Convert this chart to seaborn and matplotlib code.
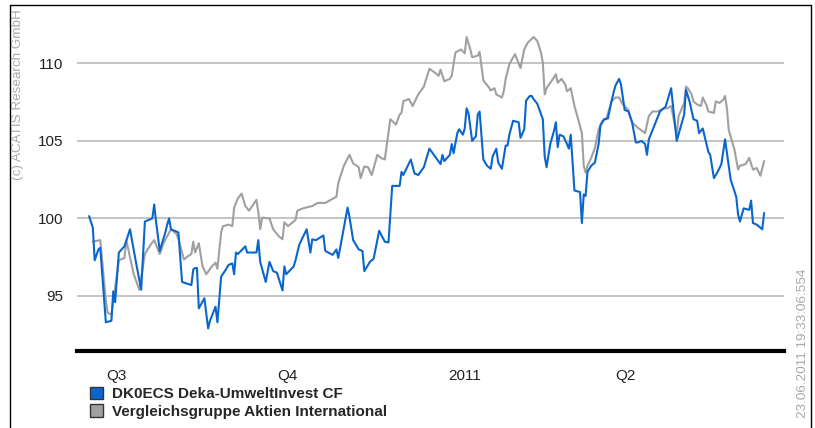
import matplotlib
matplotlib.use("Agg")
import matplotlib.pyplot as plt
from matplotlib.patches import Patch
from matplotlib.lines import Line2D
import pandas as pd
import seaborn as sns

fund_label = "DK0ECS Deka-UmweltInvest CF"
peer_label = "Vergleichsgruppe Aktien International"

fund_dates = [
    "2010-06-22", "2010-06-24", "2010-06-25", "2010-06-27", "2010-06-28",
    "2010-07-01", "2010-07-04", "2010-07-05", "2010-07-06", "2010-07-08", "2010-07-11", "2010-07-14",
    "2010-07-17", "2010-07-20", "2010-07-22", "2010-07-26", "2010-07-27", "2010-07-28", "2010-07-30",
    "2010-08-02", "2010-08-03", "2010-08-04", "2010-08-05", "2010-08-09", "2010-08-11", "2010-08-16",
    "2010-08-17", "2010-08-18", "2010-08-19", "2010-08-20", "2010-08-23", "2010-08-25", "2010-08-26",
    "2010-08-29", "2010-08-30",
    "2010-09-01", "2010-09-03", "2010-09-05", "2010-09-07", "2010-09-08", "2010-09-09", "2010-09-10",
    "2010-09-14", "2010-09-15", "2010-09-20", "2010-09-21", "2010-09-22", "2010-09-25", "2010-09-27",
    "2010-09-29",
    "2010-10-01", "2010-10-04", "2010-10-05", "2010-10-06", "2010-10-10", "2010-10-11", "2010-10-13",
    "2010-10-17", "2010-10-19", "2010-10-20", "2010-10-22", "2010-10-26", "2010-10-27", "2010-10-31",
    "2010-11-02", "2010-11-03", "2010-11-08", "2010-11-09", "2010-11-11", "2010-11-14", "2010-11-16",
    "2010-11-17", "2010-11-20", "2010-11-22", "2010-11-25", "2010-11-28", "2010-11-30",
    "2010-12-02", "2010-12-06", "2010-12-07", "2010-12-08", "2010-12-12", "2010-12-14", "2010-12-16",
    "2010-12-19", "2010-12-22", "2010-12-25", "2010-12-28", "2010-12-29", "2010-12-30",
    "2011-01-02", "2011-01-03", "2011-01-04", "2011-01-06", "2011-01-07", "2011-01-09", "2011-01-10",
    "2011-01-11", "2011-01-12", "2011-01-14", "2011-01-16", "2011-01-17", "2011-01-18", "2011-01-20",
    "2011-01-22", "2011-01-24", "2011-01-25", "2011-01-27", "2011-01-28", "2011-01-30",
    "2011-02-01", "2011-02-02", "2011-02-03", "2011-02-05", "2011-02-08", "2011-02-09", "2011-02-11",
    "2011-02-12", "2011-02-14", "2011-02-15", "2011-02-16", "2011-02-18", "2011-02-21", "2011-02-22",
    "2011-02-23", "2011-02-25", "2011-02-27", "2011-02-28",
    "2011-03-01", "2011-03-02", "2011-03-04", "2011-03-06", "2011-03-07", "2011-03-08", "2011-03-10",
    "2011-03-13", "2011-03-14", "2011-03-15", "2011-03-16", "2011-03-17", "2011-03-19", "2011-03-21",
    "2011-03-23", "2011-03-24", "2011-03-26", "2011-03-28", "2011-03-30", "2011-03-31",
    "2011-04-01", "2011-04-03", "2011-04-04", "2011-04-06", "2011-04-08", "2011-04-10", "2011-04-12",
    "2011-04-13", "2011-04-15", "2011-04-17", "2011-04-18", "2011-04-19", "2011-04-21", "2011-04-25",
    "2011-04-28",
    "2011-05-01", "2011-05-04", "2011-05-08", "2011-05-09", "2011-05-11", "2011-05-13", "2011-05-15",
    "2011-05-16", "2011-05-18", "2011-05-20", "2011-05-21", "2011-05-22", "2011-05-24", "2011-05-26",
    "2011-05-28", "2011-05-30",
    "2011-06-02", "2011-06-05", "2011-06-06", "2011-06-07", "2011-06-09", "2011-06-12", "2011-06-13",
    "2011-06-14", "2011-06-16", "2011-06-19", "2011-06-20",
]
fund_values = [
    100.15, 99.4, 97.3, 98.0, 98.1,
    93.3, 93.4, 95.3, 94.6, 97.8, 98.2, 99.3,
    97.3, 95.4, 99.8, 100.0, 100.9, 99.8, 97.9,
    99.1, 99.6, 100.0, 99.3, 99.1, 95.9, 95.7,
    96.7, 96.8, 96.8, 94.2, 94.85, 92.9, 93.4,
    94.3, 93.3,
    96.25, 96.6, 97.0, 97.1, 96.4, 97.8, 97.7,
    98.2, 97.8, 97.8, 98.6, 97.2, 95.9, 97.2,
    96.6,
    96.5, 95.35, 96.9, 96.4, 96.9, 97.3, 98.3,
    99.3, 97.8, 98.65, 98.6, 98.9, 97.9, 97.65,
    98.0, 97.45, 100.7, 100.1, 98.6, 98.0, 97.9,
    96.6, 97.2, 97.4, 99.2, 98.5, 98.45,
    102.1, 102.1, 103.0, 102.8, 103.8, 102.9, 102.8,
    103.3, 104.5, 104.0, 103.5, 104.1, 103.7,
    104.1, 104.8, 104.2, 105.5, 105.75, 105.4, 105.8,
    107.1, 106.8, 105.0, 105.3, 106.7, 106.9, 103.8,
    103.4, 103.2, 104.0, 104.5, 103.6, 103.2,
    104.7, 104.7, 105.4, 106.3, 106.2, 105.2, 105.75,
    107.6, 107.9, 107.9, 107.7, 107.4, 106.4, 104.0,
    103.3, 104.8, 105.65, 106.2,
    104.6, 105.4, 105.3, 104.8, 104.5, 105.4, 101.8,
    101.7, 99.7, 101.55, 101.45, 103.0, 103.4, 103.6,
    104.8, 106.0, 106.4, 106.45, 107.6, 108.1,
    108.55, 109.0, 108.65, 107.0, 106.9, 106.2, 104.9,
    104.9, 105.0, 104.8, 104.1, 105.1, 105.7, 106.9,
    107.2,
    108.4, 105.0, 106.7, 108.3, 107.5, 106.4, 106.3,
    105.5, 105.8, 104.8, 104.3, 104.1, 102.6, 103.0,
    103.5, 105.1,
    102.5, 101.4, 100.25, 99.8, 100.65, 100.55, 101.15,
    99.7, 99.6, 99.3, 100.35,
]

peer_dates = [
    "2010-06-24", "2010-06-28",
    "2010-07-01", "2010-07-02", "2010-07-04", "2010-07-08", "2010-07-11", "2010-07-12", "2010-07-16",
    "2010-07-19", "2010-07-22", "2010-07-25", "2010-07-27", "2010-07-30",
    "2010-08-01", "2010-08-03", "2010-08-05", "2010-08-08", "2010-08-09", "2010-08-12", "2010-08-14",
    "2010-08-16", "2010-08-17", "2010-08-18", "2010-08-20", "2010-08-22", "2010-08-24", "2010-08-27",
    "2010-08-29", "2010-08-30",
    "2010-09-01", "2010-09-02", "2010-09-05", "2010-09-07", "2010-09-08", "2010-09-10", "2010-09-12",
    "2010-09-14", "2010-09-16", "2010-09-20", "2010-09-21", "2010-09-22", "2010-09-23", "2010-09-27",
    "2010-09-29",
    "2010-10-02", "2010-10-04", "2010-10-05", "2010-10-07", "2010-10-11", "2010-10-12", "2010-10-15",
    "2010-10-20", "2010-10-23", "2010-10-27", "2010-10-30",
    "2010-11-02", "2010-11-03", "2010-11-06", "2010-11-09", "2010-11-11", "2010-11-14", "2010-11-15",
    "2010-11-17", "2010-11-19", "2010-11-21", "2010-11-24", "2010-11-26", "2010-11-28",
    "2010-12-01", "2010-12-04", "2010-12-06", "2010-12-07", "2010-12-08", "2010-12-11", "2010-12-13",
    "2010-12-16", "2010-12-19", "2010-12-22", "2010-12-25", "2010-12-27", "2010-12-28", "2010-12-30",
    "2011-01-02", "2011-01-03", "2011-01-05", "2011-01-08", "2011-01-10", "2011-01-11", "2011-01-13",
    "2011-01-14", "2011-01-17", "2011-01-18", "2011-01-20", "2011-01-23", "2011-01-24", "2011-01-26",
    "2011-01-27", "2011-01-30", "2011-01-31",
    "2011-02-01", "2011-02-03", "2011-02-06", "2011-02-09", "2011-02-10", "2011-02-11", "2011-02-13",
    "2011-02-16", "2011-02-18", "2011-02-20", "2011-02-21", "2011-02-22", "2011-02-23", "2011-02-25",
    "2011-02-27", "2011-02-28",
    "2011-03-01", "2011-03-03", "2011-03-05", "2011-03-06", "2011-03-08", "2011-03-10", "2011-03-12",
    "2011-03-14", "2011-03-15", "2011-03-16", "2011-03-17", "2011-03-19", "2011-03-21", "2011-03-23",
    "2011-03-25", "2011-03-27", "2011-03-30",
    "2011-04-01", "2011-04-03", "2011-04-05", "2011-04-08", "2011-04-10", "2011-04-13", "2011-04-16",
    "2011-04-17", "2011-04-19", "2011-04-21", "2011-04-24", "2011-04-27", "2011-04-29",
    "2011-05-01", "2011-05-04", "2011-05-05", "2011-05-08", "2011-05-09", "2011-05-10", "2011-05-12",
    "2011-05-13", "2011-05-15", "2011-05-17", "2011-05-18", "2011-05-20", "2011-05-21", "2011-05-24",
    "2011-05-25", "2011-05-27", "2011-05-29", "2011-05-30", "2011-05-31",
    "2011-06-01", "2011-06-04", "2011-06-06", "2011-06-07", "2011-06-10", "2011-06-12", "2011-06-14",
    "2011-06-16", "2011-06-18", "2011-06-20",
]
peer_values = [
    98.5, 98.6,
    94.7, 93.9, 93.8, 97.3, 97.45, 98.6, 96.4,
    95.4, 97.7, 98.3, 98.6, 97.7,
    98.4, 98.85, 99.3, 99.0, 98.7, 97.35, 97.55,
    97.7, 98.5, 97.8, 98.4, 96.9, 96.4, 96.9,
    97.15, 96.75,
    99.1, 99.5, 99.6, 99.5, 100.7, 101.3, 101.6,
    100.8, 100.5, 101.2, 100.4, 99.3, 100.05, 100.0,
    99.3,
    98.85, 98.65, 99.75, 99.5, 99.9, 100.5, 100.65,
    100.8, 101.0, 101.0, 101.2,
    101.4, 102.3, 103.4, 104.1, 103.55, 103.3, 102.6,
    103.35, 103.3, 102.8, 104.1, 103.9, 103.8,
    106.4, 106.05, 106.7, 106.8, 107.57, 107.7, 107.25,
    108.0, 108.5, 109.65, 109.4, 109.2, 109.6, 108.85,
    109.0, 109.2, 110.7, 110.9, 110.65, 111.7, 110.9,
    110.4, 110.5, 110.75, 108.9, 108.45, 108.25, 108.4,
    108.0, 107.8, 108.2,
    109.0, 109.95, 110.6, 109.7, 110.3, 110.9, 111.35,
    111.7, 111.45, 110.7, 110.05, 108.0, 108.4, 108.75,
    109.1, 109.3,
    108.75, 109.0, 108.65, 108.2, 108.4, 107.25, 106.4,
    105.5, 103.4, 102.95, 103.4, 103.9, 104.55, 105.75,
    106.3, 106.4, 107.55,
    107.8, 107.8, 107.35, 107.0, 106.2, 105.85, 105.6,
    105.5, 106.6, 106.9, 106.9, 107.1, 107.1,
    107.25, 105.4, 106.6, 107.45, 108.5, 108.4, 108.0,
    107.55, 107.35, 107.25, 107.8, 107.3, 106.9, 106.8,
    107.55, 107.45, 107.65, 107.9, 107.1,
    105.7, 104.45, 103.15, 103.4, 103.5, 103.9, 103.15,
    103.25, 102.75, 103.7,
]

tick_dates = ["2010-07-01", "2010-10-01", "2011-01-01", "2011-04-01"]
tick_labels = ["Q3", "Q4", "2011", "Q2"]
y_ticks = [95, 100, 105, 110]

fund_color = "#0a66cc"
peer_color = "#a0a0a0"

sns.set_style("white")
plt.rcParams["font.family"] = ["Liberation Sans", "DejaVu Sans"]

fund_df = pd.DataFrame({"date": pd.to_datetime(fund_dates), "value": fund_values})
peer_df = pd.DataFrame({"date": pd.to_datetime(peer_dates), "value": peer_values})

fig = plt.figure(figsize=(8.15, 4.28), dpi=100)
ax = fig.add_axes([0.0945, 0.18, 0.8675, 0.7733])

sns.lineplot(data=peer_df, x="date", y="value", color=peer_color, linewidth=1.5,
             estimator=None, sort=False, ax=ax)
sns.lineplot(data=fund_df, x="date", y="value", color=fund_color, linewidth=1.5,
             estimator=None, sort=False, ax=ax)

ax.set_xlim(pd.Timestamp("2010-06-15 12:00"), pd.Timestamp("2011-06-30 17:00"))
ax.set_ylim(91.45, 112.8)
ax.set_xlabel("")
ax.set_ylabel("")

ax.set_yticks(y_ticks)
ax.set_yticklabels([str(v) for v in y_ticks])
ax.yaxis.grid(True, color="#b4b4b4", linewidth=1.1)
ax.xaxis.grid(False)
ax.set_axisbelow(True)
ax.tick_params(axis="y", length=0, pad=10, labelsize=11, labelcolor="#222222")

ax.set_xticks(pd.to_datetime(tick_dates))
ax.set_xticklabels(tick_labels, ha="left")
ax.tick_params(axis="x", direction="in", length=6, width=1.3, pad=13, labelsize=11,
               color="black", labelcolor="#222222")

for side in ["top", "left", "right"]:
    ax.spines[side].set_visible(False)
ax.spines["bottom"].set_linewidth(3)
ax.spines["bottom"].set_color("black")

handles = [
    Patch(facecolor=fund_color, edgecolor="#333333", label=fund_label),
    Patch(facecolor=peer_color, edgecolor="#333333", label=peer_label),
]
fig.legend(handles=handles, loc="upper left", bbox_to_anchor=(0.1105, 0.096),
           frameon=False, handlelength=0.85, handleheight=0.85, handletextpad=0.6,
           labelspacing=0.2, borderpad=0, borderaxespad=0,
           prop={"weight": "bold", "size": 11})

# outer frame (bottom edge is outside the image)
fx0, fx1, fy1 = 10 / 815, 811 / 815, 1 - 5 / 428
for xs, ys in [([fx0, fx0], [0, fy1]), ([fx0, fx1], [fy1, fy1]), ([fx1, fx1], [0, fy1])]:
    fig.add_artist(Line2D(xs, ys, transform=fig.transFigure, color="black", linewidth=1))

fig.text(18 / 815, 1 - 95 / 428, "(c) ACATIS Research GmbH", rotation=90,
         ha="center", va="center", color="#aaaaaa", fontsize=9.7)
fig.text(803 / 815, 1 - 343 / 428, "23.06.2011 19:33:06:554", rotation=90,
         ha="center", va="center", color="#aaaaaa", fontsize=9.7)

fig.savefig("out.png", dpi=100)
